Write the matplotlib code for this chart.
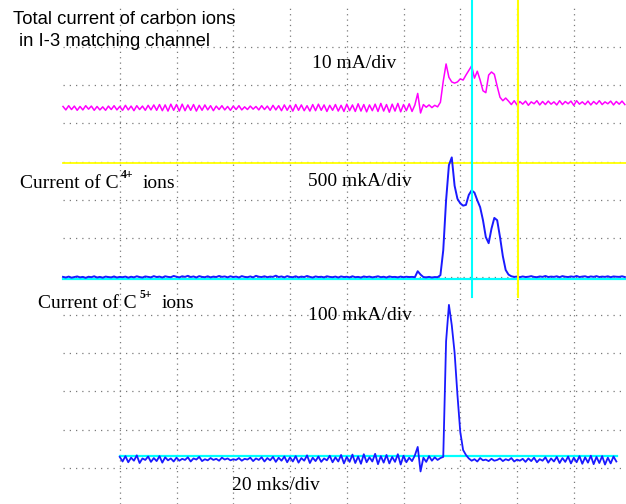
import numpy as np
import matplotlib.pyplot as plt

# scope settings
us_per_div = 20          # 20 mks/div
ma_per_div = 10          # total current, mA/div
c4_per_div = 500         # C4+ current, mkA/div
c5_per_div = 100         # C5+ current, mkA/div

# zero lines of each channel (in screen divisions above bottom grid line)
mag_zero = 9.40
c4_zero = 4.93
c5_zero = 0.31

# total current of carbon ions, mA, one sample per mks from t=0
mag_pre = [0.4,-0.5,0.6,-0.4,0.5,-0.6,0.4,-0.5,0.6,-0.3,0.5,-0.6,0.4,-0.5,0.3,-0.6,0.5,-0.4,0.6,-0.5,
           0.4,-0.6,0.7,-0.5,0.5,-0.7,0.6,-0.4,0.5,-0.6,0.7,-0.5,0.8,-0.6,0.9,-0.7,0.8,-0.8,1.0,-0.6,
           0.9,-0.8,1.0,-0.7,0.8,-0.6,0.9,-0.8,0.7,-0.6,0.8,-0.5,0.6,-0.7,0.5,-0.4,0.6,-0.5,0.4,-0.6,
           0.5,-0.4,0.6,-0.5,0.3,-0.4,0.5,-0.3,0.4,-0.5,0.6,-0.4,0.5,-0.6,0.7,-0.5,0.6,-0.7,0.8,-0.6,
           0.7,-0.8,0.9,-0.6,0.8,-0.7,0.6,-0.8,0.9,-0.7,1.0,-0.6,0.8,-0.9,0.7,-0.6,0.9,-0.8,0.7,-0.9,
           1.0,-0.7,0.8,-0.9,1.1,-0.8,0.9,-1.0,0.8,-0.7,1.0,-0.9,1.2,-0.8,0.9,-1.1,1.0,-0.8,1.2,-1.0,
           0.9,-0.7,1.1,-0.9,0.8]
mag_pulse = [3.8,-1.3,0.9,0.2,0.8,0.1,0.7,0.3,1.5,7.0,11.5,8.0,6.8,6.5,6.8,7.6,7.3,8.6,9.8,11.0,
             7.8,9.6,7.3,4.5,4.0,8.6,9.4,8.8,5.7,2.8,1.9,2.6]
mag_post = [1.8,0.9,1.9,0.8,1.7,1.0,1.8,0.7,1.6,1.1,1.9,0.8,1.7,0.9,1.8,1.0,1.6,0.8,1.9,0.9,
            1.7,1.1,1.8,0.7,1.9,1.0,1.6,0.9,1.8,0.8,1.7,1.0,1.9,0.9,1.6,1.1,1.8,0.8,1.7,1.0,
            1.8,0.9]

# current of C4+ ions, mkA, from t=0
c4_pre = [30,22,34,20,28,36,24,30,18,32,26,38,22,30,20,34,28,24,36,22,
          30,26,34,20,32,24,38,28,22,36,30,24,40,28,34,22,38,30,26,42,
          32,24,38,30,44,28,36,22,40,30,26,38,24,34,28,42,30,36,24,38,
          28,34,22,40,30,26,36,24,44,32,28,38,26,34,30,46,28,36,24,40,
          30,26,38,24,34,28,42,30,22,36,28,32,24,38,30,26,34,22,36,28,
          32,24,38,26,30,22,36,28,34,24,30,38,26,32,22,36,28,30,24,34,
          26,32,28,30,26]
c4_pulse = [104,60,28,24,30,22,28,26,52,378,1030,1490,1590,1220,1050,990,960,970,1100,1160,
            1130,1030,940,770,550,470,660,800,770,550,300,120,60]
c4_post = [38,30,34,26,36,28,32,40,30,26,36,30,42,28,34,30,38,26,40,32,
           28,36,30,42,28,34,38,26,36,30,40,28,34,30,38,26,36,32,30,38,28]

# current of C5+ ions, mkA, from t=20
c5_pre = [-2,-14,0,-16,-4,-12,2,-18,-6,-10,-1,-15,-5,-13,0,-17,-3,-11,-6,-14,
          -4,-12,-7,-10,-3,-14,-6,-9,-2,-13,-8,-11,-5,-10,-7,-12,-4,-9,-6,-11,
          -8,-10,-5,-12,-7,-9,-4,-13,-6,-10,-3,-14,-5,-11,-2,-15,-4,-12,-1,-16,
          -3,-14,0,-17,-5,-12,2,-18,-4,-13,-1,-15,-6,-11,1,-16,-3,-14,3,-19,
          -2,-15,4,-18,-1,-20,5,-16,-3,-14,6,-21,0,-17,3,-19,-2,-15,5,-22,
          1,-16,-4,-13,2]
c5_pulse = [24,-40,-4,-15,0,-12,-3,-10,-5,-2,300,395,342,270,160,63,16,3]
c5_post = [-6,-12,-8,-14,-5,-11,-9,-13,-7,-12,
           -10,-6,-13,-8,-11,-5,-14,-9,-12,-7,
           -15,-6,-13,-4,-16,-8,-12,-3,-17,-6,
           -14,-2,-18,-5,-15,-1,-19,-4,-16,0,
           -20,-3,-17,1,-21,-2,-18,0,-22,-4,-19,-1,-14]
c5_start = 20

# cursors, mks
cursor_cyan = 144.1
cursor_yellow = 160.4

mag = np.array(mag_pre + mag_pulse + mag_post)
c4 = np.array(c4_pre + c4_pulse + c4_post)
c5 = np.array(c5_pre + c5_pulse + c5_post)
t_mag = np.arange(len(mag))
t_c4 = np.arange(len(c4))
t_c5 = c5_start + np.arange(len(c5))

W, H = 626, 504
fig = plt.figure(figsize=(W/100, H/100), dpi=100)
ax = fig.add_axes([0, 0, 1, 1])
xmin, xmax = -22.2, 198.4
ymin, ymax = -0.94, 12.22
ax.set_xlim(xmin, xmax)
ax.set_ylim(ymin, ymax)
ax.axis('off')

grey = '#7a7a7a'
# dotted screen grid
for k in range(12):
    ax.plot([0, xmax], [k, k], color=grey, lw=0.9, ls=(0, (1, 4)), zorder=1)
for k in range(1, 10):
    ax.plot([k*us_per_div, k*us_per_div], [ymin, 12], color=grey, lw=0.9, ls=(0, (1, 3.3)), zorder=1)

# reference lines and cursors
ax.plot([0, xmax], [7.97, 7.97], color='#ffff00', lw=1.3, zorder=2)
ax.plot([0, xmax], [c4_zero, c4_zero], color='#00ffff', lw=1.6, zorder=2)
ax.plot([c5_start, 195.2], [c5_zero, c5_zero], color='#00ffff', lw=1.6, zorder=2)
ax.plot([cursor_cyan, cursor_cyan], [4.47, ymax], color='#00ffff', lw=1.5, zorder=4)
ax.plot([cursor_yellow, cursor_yellow], [4.47, ymax], color='#ffff00', lw=1.5, zorder=4)

# traces
ax.plot(t_mag, mag_zero + mag/ma_per_div, color='#ff00ff', lw=1.1, zorder=3)
ax.plot(t_c4, c4_zero + c4/c4_per_div, color='#1a1aff', lw=1.4, zorder=3)
ax.plot(t_c5, c5_zero + c5/c5_per_div, color='#1a1aff', lw=1.3, zorder=3)

def px(x, y):
    return x/W, 1 - y/H

sans = 'Liberation Sans'
serif = 'Liberation Serif'
fs = 14
fig.text(*px(13, 20), 'Total current of carbon ions', family=sans, fontsize=13.3, va='center')
fig.text(*px(19, 41), 'in I-3 matching channel', family=sans, fontsize=13.3, va='center')
fig.text(*px(312, 63), '10 mA/div', family=serif, fontsize=fs, va='center')
fig.text(*px(20, 184), 'Current of C', family=serif, fontsize=fs, va='center')
fig.text(*px(121, 175), '4+', family=serif, fontsize=8.5, weight='bold', va='center')
fig.text(*px(143, 184), 'ions', family=serif, fontsize=fs, va='center')
fig.text(*px(308, 181), '500 mkA/div', family=serif, fontsize=fs, va='center')
fig.text(*px(38, 303), 'Current of C', family=serif, fontsize=fs, va='center')
fig.text(*px(140, 295), '5+', family=serif, fontsize=8.5, weight='bold', va='center')
fig.text(*px(162, 303), 'ions', family=serif, fontsize=fs, va='center')
fig.text(*px(308, 315), '100 mkA/div', family=serif, fontsize=fs, va='center')
fig.text(*px(232, 485), '20 mks/div', family=serif, fontsize=fs, va='center')

fig.savefig('out.png', dpi=100)
